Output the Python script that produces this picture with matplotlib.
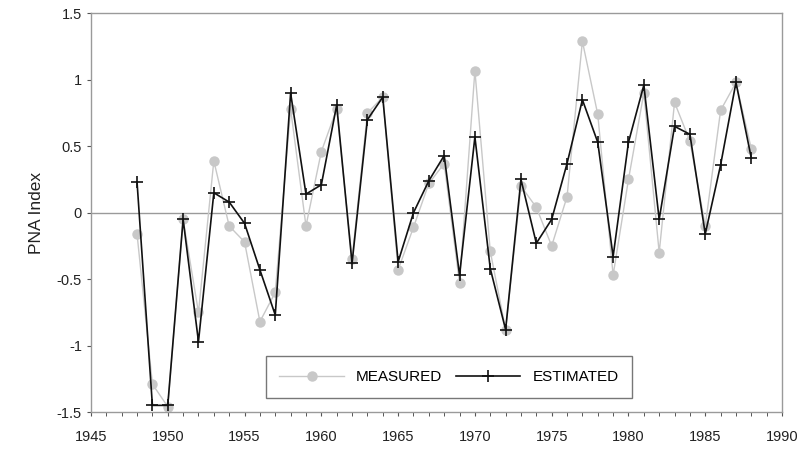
import matplotlib
matplotlib.use("Agg")
import matplotlib.pyplot as plt
from matplotlib.ticker import MultipleLocator

plt.rcParams['font.family'] = ['Liberation Sans', 'DejaVu Sans']

years = list(range(1948, 1989))
estimated = [0.23, -1.45, -1.45, -0.05, -0.97, 0.15, 0.08, -0.08, -0.43, -0.77,
             0.90, 0.14, 0.21, 0.81, -0.38, 0.70, 0.87, -0.37, 0.00, 0.24,
             0.43, -0.47, 0.57, -0.42, -0.88, 0.25, -0.23, -0.05, 0.37, 0.85,
             0.53, -0.33, 0.53, 0.96, -0.05, 0.65, 0.59, -0.16, 0.36, 0.98, 0.41]
measured = [-0.16, -1.29, -1.46, -0.05, -0.75, 0.39, -0.10, -0.22, -0.82, -0.60,
            0.78, -0.10, 0.46, 0.78, -0.35, 0.75, 0.87, -0.43, -0.11, 0.22,
            0.37, -0.53, 1.07, -0.29, -0.88, 0.20, 0.04, -0.25, 0.12, 1.29,
            0.74, -0.47, 0.25, 0.90, -0.30, 0.83, 0.54, -0.10, 0.77, 0.98, 0.48]
y_ticks = [-1.5, -1, -0.5, 0, 0.5, 1, 1.5]
y_ticklabels = ['-1.5', '-1', '-0.5', '0', '0.5', '1', '1.5']
x_ticks = [1945, 1950, 1955, 1960, 1965, 1970, 1975, 1980, 1985, 1990]

fig = plt.figure(figsize=(7.98, 4.54), dpi=100)
ax = fig.add_axes([0.114, 0.0925, 0.866, 0.878])

ax.axhline(0, color='#9a9a9a', lw=1.0, zorder=1)
ax.plot(years, measured, color='#c8c8c8', lw=1.0, marker='o', ms=6.5,
        mfc='#c8c8c8', mec='#c8c8c8', label='MEASURED', zorder=2)
ax.plot(years, estimated, color='#111111', lw=1.2, marker='+', ms=8.5,
        mew=1.2, label='ESTIMATED', zorder=3)

ax.set_xlim(1945, 1990)
ax.set_ylim(-1.5, 1.5)
ax.set_xticks(x_ticks)
ax.xaxis.set_minor_locator(MultipleLocator(1))
ax.set_yticks(y_ticks)
ax.set_yticklabels(y_ticklabels)
ax.set_ylabel('PNA Index', fontsize=12.5, color='#222222', labelpad=9)

for s in ax.spines.values():
    s.set_color('#9a9a9a')
    s.set_linewidth(1.0)
ax.tick_params(axis='both', labelsize=10.5, colors='#222222', length=3,
               width=0.8, direction='out')
ax.tick_params(axis='both', which='both', color='#555555')
ax.tick_params(axis='x', which='minor', length=3, width=0.7, direction='out')
ax.tick_params(axis='x', pad=10)

leg = ax.legend(loc='center', bbox_to_anchor=(0.518, 0.088), ncol=2,
                frameon=True, fancybox=False, fontsize=11,
                handlelength=4.2, columnspacing=0.9, borderpad=0.9,
                edgecolor='#555555')
leg.get_frame().set_linewidth(1.0)

fig.savefig('out.png', dpi=100, facecolor='white')
